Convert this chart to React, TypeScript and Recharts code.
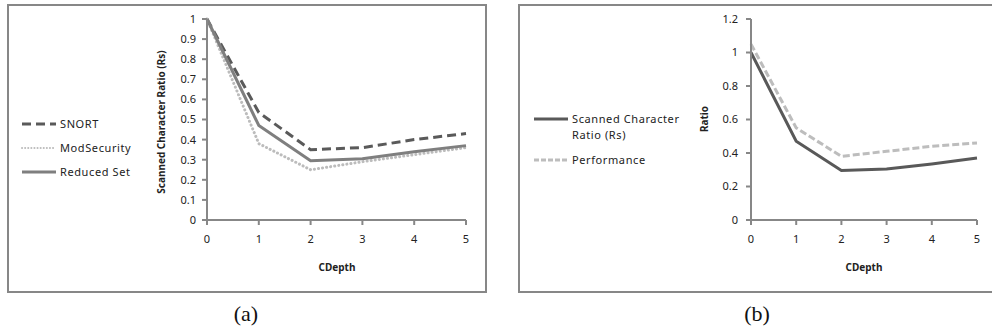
import React from 'react';
import { LineChart, Line, XAxis, YAxis } from 'recharts';

const categories = [0, 1, 2, 3, 4, 5];
const snort = [1, 0.535, 0.35, 0.36, 0.4, 0.43];
const modSecurity = [1, 0.38, 0.25, 0.29, 0.325, 0.36];
const reducedSet = [1, 0.47, 0.295, 0.305, 0.34, 0.37];
const scannedRatio = [1, 0.47, 0.295, 0.305, 0.335, 0.37];
const performance = [1.05, 0.55, 0.38, 0.41, 0.44, 0.46];
const yTicksA = [0, 0.1, 0.2, 0.3, 0.4, 0.5, 0.6, 0.7, 0.8, 0.9, 1];
const yTicksB = [0, 0.2, 0.4, 0.6, 0.8, 1, 1.2];

const dataA = categories.map((c, i) => ({ x: c, snort: snort[i], mod: modSecurity[i], reduced: reducedSet[i] }));
const dataB = categories.map((c, i) => ({ x: c, scanned: scannedRatio[i], perf: performance[i] }));

const AXIS = '#878787';
const FONT = "'Noto Sans', sans-serif";
const tickStyle = { fontSize: 11, fill: '#222', fontFamily: FONT };

const yTitle = (text: string, x: number, y: number) => () => (
  <text x={x} y={y} transform={`rotate(-90 ${x} ${y})`} textAnchor="middle" dominantBaseline="central"
    style={{ fontSize: 10, fontWeight: 700, fontFamily: FONT, fill: '#222' }}>{text}</text>
);
const xTitle = (text: string, x: number, y: number) => () => (
  <text x={x} y={y} textAnchor="middle" dominantBaseline="central"
    style={{ fontSize: 10, fontWeight: 700, fontFamily: FONT, fill: '#222' }}>{text}</text>
);

function LegendRow({ top, left, color, dash, width, label, lineW = 36, cap = 'butt' }: any) {
  return (
    <div style={{ position: 'absolute', left, top, display: 'flex', alignItems: 'flex-start', fontFamily: FONT, fontSize: 11, color: '#222', letterSpacing: 0.6 }}>
      <svg width={lineW} height={14} style={{ flex: 'none' }}>
        <line x1={1} y1={7} x2={lineW - 1} y2={7} stroke={color} strokeWidth={width} strokeDasharray={dash} strokeLinecap={cap} />
      </svg>
      <div style={{ marginLeft: 3, lineHeight: '16px', marginTop: -1 }}>{label}</div>
    </div>
  );
}

export default function App() {
  return (
    <div style={{ position: 'absolute', left: 0, top: 0, width: 992, height: 335, background: '#fff' }}>
      <div style={{ position: 'absolute', left: 7, top: 4, width: 480, height: 289, border: `2px solid ${AXIS}`, boxSizing: 'border-box' }} />
      <div style={{ position: 'absolute', left: 518, top: 4, width: 474, height: 289, border: `2px solid ${AXIS}`, borderRight: 'none', boxSizing: 'border-box' }} />

      <div style={{ position: 'absolute', left: 0, top: 0 }}>
        <LineChart width={492} height={300} data={dataA} margin={{ top: 19, right: 26, bottom: 30, left: 0 }}>
          <XAxis dataKey="x" type="number" domain={[0, 5]} ticks={categories} stroke={AXIS} strokeWidth={2}
            tickSize={5} tickMargin={10} tick={tickStyle} height={50} label={{ content: xTitle('CDepth', 337, 267) }} />
          <YAxis type="number" domain={[0, 1]} ticks={yTicksA} stroke={AXIS} strokeWidth={2} width={207}
            tickSize={5} tickMargin={6} tick={tickStyle} interval={0} label={{ content: yTitle('Scanned Character Ratio (Rs)', 161, 122) }} />
          <Line dataKey="snort" stroke="#5a5a5a" strokeWidth={3} strokeDasharray="9 5" dot={false} isAnimationActive={false} />
          <Line dataKey="mod" stroke="#bcbcbc" strokeWidth={3} strokeDasharray="0.1 4" strokeLinecap="round" dot={false} isAnimationActive={false} />
          <Line dataKey="reduced" stroke="#7f7f7f" strokeWidth={3} dot={false} isAnimationActive={false} />
        </LineChart>
      </div>
      <LegendRow top={117} left={21} color="#5a5a5a" width={3} dash="9 5" label="SNORT" />
      <LegendRow top={141} left={21} color="#bcbcbc" width={2} dash="0.1 3" cap="round" label="ModSecurity" />
      <LegendRow top={165} left={21} color="#7f7f7f" width={3} label="Reduced Set" />

      <div style={{ position: 'absolute', left: 500, top: 0 }}>
        <LineChart width={492} height={300} data={dataB} margin={{ top: 19, right: 15, bottom: 30, left: 0 }}>
          <XAxis dataKey="x" type="number" domain={[0, 5]} ticks={categories} stroke={AXIS} strokeWidth={2}
            tickSize={5} tickMargin={10} tick={tickStyle} height={50} label={{ content: xTitle('CDepth', 364, 267) }} />
          <YAxis type="number" domain={[0, 1.2]} ticks={yTicksB} stroke={AXIS} strokeWidth={2} width={251}
            tickSize={5} tickMargin={8} tick={tickStyle} interval={0} label={{ content: yTitle('Ratio', 204, 119) }} />
          <Line dataKey="perf" stroke="#bdbdbd" strokeWidth={3} strokeDasharray="7 3" dot={false} isAnimationActive={false} />
          <Line dataKey="scanned" stroke="#595959" strokeWidth={3} dot={false} isAnimationActive={false} />
        </LineChart>
      </div>
      <LegendRow top={112} left={533} color="#595959" width={3} label={<span>Scanned Character<br />Ratio (Rs)</span>} lineW={36} />
      <LegendRow top={153} left={533} color="#bdbdbd" width={3} dash="5 2" label="Performance" lineW={36} />

      <div style={{ position: 'absolute', left: 221, top: 301, width: 50, textAlign: 'center', fontFamily: "'Liberation Serif', serif", fontSize: 22, color: '#111' }}>(a)</div>
      <div style={{ position: 'absolute', left: 732, top: 301, width: 50, textAlign: 'center', fontFamily: "'Liberation Serif', serif", fontSize: 22, color: '#111' }}>(b)</div>
    </div>
  );
}
